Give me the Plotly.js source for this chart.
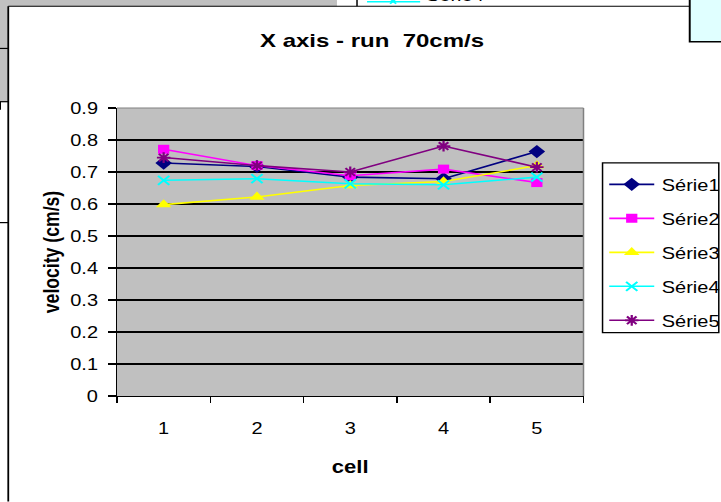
<!DOCTYPE html>
<html>
<head>
<meta charset="utf-8">
<script src="https://cdn.plot.ly/plotly-3.0.1.min.js"></script>
<style>
html,body{margin:0;padding:0;background:#fff;}
#wrap{width:721px;height:502px;overflow:hidden;position:relative;background:#fff;}
#chart{position:absolute;left:0;top:0;transform-origin:0 0;}
</style>
</head>
<body>
<div id="wrap"><div id="chart"></div></div>
<script>
// ---- data ----
const cells = ['1', '2', '3', '4', '5'];
const serie1 = [0.728, 0.717, 0.684, 0.679, 0.764];
const serie2 = [0.771, 0.720, 0.688, 0.709, 0.667];
const serie3 = [0.598, 0.622, 0.658, 0.670, 0.720];
const serie4 = [0.674, 0.679, 0.663, 0.660, 0.684];
const serie5 = [0.745, 0.720, 0.700, 0.781, 0.715];
const seriesNames = ['Série1', 'Série2', 'Série3', 'Série4', 'Série5'];
const yTicks = [0, 0.1, 0.2, 0.3, 0.4, 0.5, 0.6, 0.7, 0.8, 0.9];
const yTickText = ['0', '0.1', '0.2', '0.3', '0.4', '0.5', '0.6', '0.7', '0.8', '0.9'];

// ---- geometry (the picture is a stretched spreadsheet chart) ----
const SX = 1.5, SY = 1.2;
const W = 721 / SX, H = 502 / SY;
const L = 117.5 / SX, T = 108.3 / SY;
const R = W - 583 / SX, B = H - 396.5 / SY;
const PW = W - L - R, PH = H - T - B;
function px(x) { return (x / SX - L) / PW; }
function py(y) { return 1 - (y / SY - T) / PH; }

const el = document.getElementById('chart');
el.style.width = W + 'px';
el.style.height = H + 'px';
el.style.transform = 'scale(' + SX + ',' + SY + ')';

const FONT = 'Liberation Sans, Arial, sans-serif';
const colors = ['#000080', '#ff00ff', '#ffff00', '#00ffff', '#800080'];
const symbols = ['diamond', 'square', 'triangle-up', 'x-thin', 'asterisk'];
const sizes = [8.5, 7.5, 9, 7.5, 7.5];
const values = [serie1, serie2, serie3, serie4, serie5];

const traces = values.map((v, i) => {
  const lineSym = symbols[i] === 'x-thin' || symbols[i] === 'asterisk';
  return {
    type: 'scatter', mode: 'lines+markers',
    x: cells, y: v, name: seriesNames[i], legendgroup: 'g' + i,
    line: {color: colors[i], width: 1.3},
    marker: {symbol: symbols[i], size: sizes[i], color: colors[i],
             line: {color: colors[i], width: lineSym ? 1.5 : 0}},
    cliponaxis: false
  };
});

function rect(x0, y0, x1, y1, fill, lineColor, lw) {
  return {type: 'rect', xref: 'paper', yref: 'paper', x0: px(x0), x1: px(x1), y0: py(y0), y1: py(y1),
    fillcolor: fill, line: {color: lineColor || 'rgba(0,0,0,0)', width: lw || 0}, layer: 'above'};
}
function seg(x0, y0, x1, y1, color, lw) {
  return {type: 'line', xref: 'paper', yref: 'paper', x0: px(x0), x1: px(x1), y0: py(y0), y1: py(y1),
    line: {color: color || '#000', width: lw || 1}, layer: 'above'};
}

const shapes = [
  // background spreadsheet pieces
  rect(0, -2, 337, 6.5, '#c0c0c0'),
  rect(0, -2, 9, 102, '#c0c0c0'),
  seg(0, 48.7, 9, 48.7),
  seg(0, 102, 9, 102),
  seg(1, 102, 1, 110),
  seg(0, 223, 9, 223),
  seg(357, -2, 357, 6.5),
  seg(367, 2, 420, 2, '#00ffff', 1.2),
  seg(390, -1, 396, 4, '#00ffff', 1.2),
  seg(390, 4, 396, -1, '#00ffff', 1.2),
  rect(689, -3, 725, 42, '#e0ffff', '#000', 1.3),
  // chart frame
  seg(9, 6.5, 689, 6.5, '#000', 1),
  seg(9, 6.5, 9, 510, '#000', 1.2),
  // plot area border (top / right)
  seg(117.5, 108.3, 583, 108.3, '#808080', 1),
  seg(583, 108.3, 583, 396.5, '#808080', 1),
  // legend box
  rect(602, 163.3, 718, 333, '#ffffff', '#000', 1)
];

const layout = {
  width: W, height: H,
  margin: {l: L, r: R, t: T, b: B, pad: 0, autoexpand: false},
  paper_bgcolor: '#ffffff', plot_bgcolor: '#c0c0c0',
  font: {family: FONT, size: 13.33, color: '#000'},
  title: {text: 'X axis - run  70cm/s', font: {family: FONT, size: 16, weight: 'bold', color: '#000'},
          xref: 'container', yref: 'container', x: 372 / 721, xanchor: 'center',
          y: 1 - 40 / 502, yanchor: 'middle'},
  xaxis: {type: 'category', range: [-0.5, 4.5], tickson: 'boundaries', ticks: 'outside', ticklen: 5, tickwidth: 1, tickcolor: '#000',
          showline: true, linecolor: '#000', linewidth: 1, showgrid: false, zeroline: false,
          ticklabelstandoff: 15, tickfont: {family: FONT, size: 13.33},
          title: {text: 'cell', font: {family: FONT, size: 14.7, weight: 'bold'}, standoff: 19},
          automargin: false, fixedrange: true},
  yaxis: {range: [0, 0.9], tickvals: yTicks, ticktext: yTickText, ticks: 'outside', ticklen: 5, tickwidth: 1,
          tickcolor: '#000', showline: true, linecolor: '#000', linewidth: 1,
          showgrid: true, gridcolor: '#000', gridwidth: 1, zeroline: false,
          ticklabelstandoff: 4, tickfont: {family: FONT, size: 13.33},
          title: {text: 'velocity (cm/s)', font: {family: FONT, size: 14.7, weight: 'bold'}, standoff: 3},
          automargin: false, fixedrange: true},
  showlegend: true,
  legend: {x: px(601.2), y: py(166.5), xanchor: 'left', yanchor: 'top',
           bgcolor: 'rgba(0,0,0,0)', borderwidth: 0,
           font: {family: FONT, size: 13.33, color: '#000'},
           traceorder: 'grouped', tracegroupgap: 8, itemwidth: 30},
  shapes: shapes,
  annotations: [
    {xref: 'paper', yref: 'paper', x: px(423), y: py(-4), xanchor: 'left', yanchor: 'middle',
     text: 'Série4', showarrow: false, font: {family: FONT, size: 13.33, color: '#000'}}
  ]
};

Plotly.newPlot(el, traces, layout, {displayModeBar: false, staticPlot: true});
</script>
</body>
</html>
